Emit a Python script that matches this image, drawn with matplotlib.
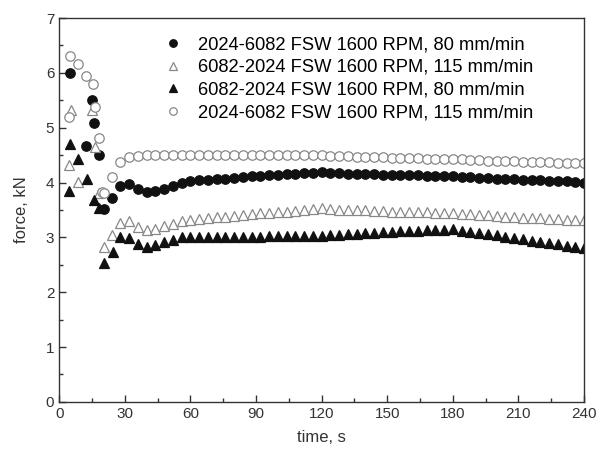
import numpy as np
import matplotlib.pyplot as plt
from matplotlib.ticker import MultipleLocator

plt.rcParams['font.family'] = ['Liberation Sans', 'DejaVu Sans']

# common time grid of the steady part, s
t_main = np.arange(28, 241, 4)

# 2024-6082 FSW 1600 RPM, 80 mm/min (filled circles)
t_c80_start = [5, 12.3, 14.9, 16, 18, 20.3, 24.3]
f_c80_start = [6.00, 4.67, 5.51, 5.08, 4.51, 3.52, 3.72]
f_c80 = [3.93, 3.97, 3.88, 3.82, 3.85, 3.89, 3.93, 3.99, 4.02, 4.04,
         4.05, 4.06, 4.07, 4.08, 4.10, 4.11, 4.12, 4.13, 4.14, 4.15,
         4.16, 4.17, 4.18, 4.20, 4.18, 4.17, 4.16, 4.16, 4.15, 4.15,
         4.14, 4.14, 4.13, 4.13, 4.13, 4.12, 4.12, 4.12, 4.11, 4.10,
         4.10, 4.09, 4.08, 4.07, 4.07, 4.06, 4.05, 4.05, 4.04, 4.03,
         4.02, 4.02, 4.01, 4.00]

# 6082-2024 FSW 1600 RPM, 115 mm/min (open triangles)
t_t115_start = [4.3, 5.3, 8.4, 14.9, 16.5, 18.4, 20.3, 24.1]
f_t115_start = [4.32, 5.32, 4.01, 5.32, 4.65, 3.81, 2.83, 3.04]
f_t115 = [3.27, 3.29, 3.18, 3.13, 3.16, 3.20, 3.24, 3.29, 3.32, 3.34,
          3.36, 3.37, 3.38, 3.39, 3.41, 3.42, 3.44, 3.45, 3.46, 3.47,
          3.48, 3.49, 3.51, 3.53, 3.51, 3.50, 3.50, 3.49, 3.49, 3.48,
          3.48, 3.47, 3.47, 3.47, 3.46, 3.46, 3.45, 3.45, 3.44, 3.43,
          3.42, 3.41, 3.40, 3.39, 3.38, 3.37, 3.36, 3.35, 3.35, 3.34,
          3.33, 3.32, 3.32, 3.31]

# 6082-2024 FSW 1600 RPM, 80 mm/min (filled triangles)
t_t80_start = [4.3, 5, 8.4, 12.6, 16, 18, 20.7, 24.5]
f_t80_start = [3.84, 4.71, 4.43, 4.06, 3.68, 3.53, 2.53, 2.74]
f_t80 = [3.00, 2.98, 2.88, 2.83, 2.86, 2.92, 2.96, 3.00, 3.01, 3.00,
         3.00, 3.00, 3.01, 3.01, 3.01, 3.01, 3.01, 3.02, 3.02, 3.02,
         3.02, 3.03, 3.03, 3.03, 3.04, 3.05, 3.06, 3.07, 3.08, 3.08,
         3.09, 3.10, 3.11, 3.11, 3.12, 3.13, 3.13, 3.14, 3.15, 3.12,
         3.10, 3.08, 3.06, 3.04, 3.01, 2.99, 2.97, 2.94, 2.92, 2.90,
         2.87, 2.85, 2.83, 2.80]

# 2024-6082 FSW 1600 RPM, 115 mm/min (open circles)
t_c115_start = [4.3, 5, 8.4, 12.3, 15.4, 16.5, 18.1, 19.5, 20.3, 24]
f_c115_start = [5.19, 6.30, 6.16, 5.94, 5.80, 5.38, 4.81, 3.83, 3.81, 4.10]
f_c115 = [4.37, 4.46, 4.49, 4.51, 4.50, 4.50, 4.50, 4.50, 4.50, 4.50,
          4.50, 4.50, 4.50, 4.50, 4.50, 4.50, 4.50, 4.50, 4.50, 4.50,
          4.50, 4.50, 4.51, 4.51, 4.49, 4.48, 4.48, 4.47, 4.47, 4.46,
          4.46, 4.45, 4.45, 4.44, 4.44, 4.43, 4.43, 4.42, 4.42, 4.42,
          4.41, 4.41, 4.40, 4.40, 4.39, 4.39, 4.38, 4.38, 4.37, 4.37,
          4.36, 4.36, 4.35, 4.35]

labels = [
    "2024-6082 FSW 1600 RPM, 80 mm/min",
    "6082-2024 FSW 1600 RPM, 115 mm/min",
    "6082-2024 FSW 1600 RPM, 80 mm/min",
    "2024-6082 FSW 1600 RPM, 115 mm/min",
]


def plot_chart():
    """Draws the force vs time chart and saves it as out.png."""
    fig = plt.figure(figsize=(6.04, 4.5), dpi=100)
    ax = fig.add_axes([0.098, 0.107, 0.869, 0.853])

    gray = "#888888"
    dark = "#111111"
    ms = 6.8

    series = [
        (t_c80_start, f_c80_start, f_c80, "o", dark, dark),
        (t_t115_start, f_t115_start, f_t115, "^", "white", gray),
        (t_t80_start, f_t80_start, f_t80, "^", dark, dark),
        (t_c115_start, f_c115_start, f_c115, "o", "white", gray),
    ]
    for (t0, f0, f, marker, fc, ec), label in zip(series, labels):
        t = np.concatenate([t0, t_main])
        y = np.concatenate([f0, f])
        ax.plot(t, y, linestyle="none", marker=marker, markersize=ms,
                markerfacecolor=fc, markeredgecolor=ec, markeredgewidth=0.9,
                label=label)

    ax.set_xlim(0, 240)
    ax.set_ylim(0, 7)
    ax.xaxis.set_major_locator(MultipleLocator(30))
    ax.xaxis.set_minor_locator(MultipleLocator(15))
    ax.yaxis.set_major_locator(MultipleLocator(1))
    ax.yaxis.set_minor_locator(MultipleLocator(0.5))
    ax.tick_params(which="both", direction="in", top=False, right=False,
                   labelsize=11, colors="#333333", width=1.0)
    ax.tick_params(which="major", length=5)
    ax.tick_params(which="minor", length=3)
    for sp in ax.spines.values():
        sp.set_linewidth(1.0)
        sp.set_color("#333333")

    ax.set_xlabel("time, s", fontsize=12, color="#333333", labelpad=7)
    ax.set_ylabel("force, kN", fontsize=12, color="#333333", labelpad=12)

    ax.legend(loc="upper left", bbox_to_anchor=(0.185, 0.972), frameon=False,
              fontsize=13.2, handlelength=1.0, handletextpad=0.9,
              labelspacing=0.32, markerscale=0.8, borderaxespad=0)

    fig.savefig("out.png", dpi=100)


if __name__ == "__main__":
    plot_chart()
